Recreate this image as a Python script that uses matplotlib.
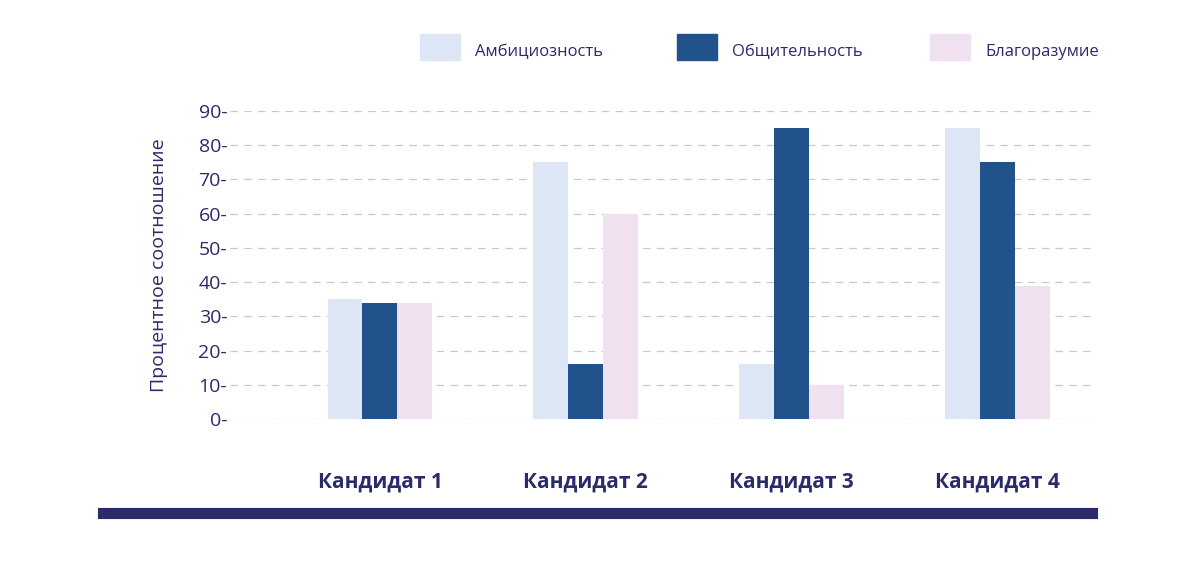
import matplotlib
matplotlib.use("Agg")
import matplotlib.pyplot as plt
from matplotlib.patches import Rectangle
from matplotlib.lines import Line2D
import numpy as np

categories = ["Кандидат 1", "Кандидат 2", "Кандидат 3", "Кандидат 4"]
series_names = ["Амбициозность", "Общительность", "Благоразумие"]
ambition = [35, 75, 16, 85]
sociability = [34, 16, 85, 75]
prudence = [34, 60, 10, 39]
yticks = [0, 10, 20, 30, 40, 50, 60, 70, 80, 90]

colors = ["#dce6f5", "#22528c", "#f0e1f0"]
navy = "#2b2a6b"
plt.rcParams["font.family"] = "Open Sans"

fig = plt.figure(figsize=(12, 5.7), dpi=100)
W, H = 1200, 570
ax = fig.add_axes([230 / W, (H - 419) / H, (1095 - 230) / W, (419 - 111) / H])

x = np.arange(len(categories))
w = 0.17
for k, vals in enumerate([ambition, sociability, prudence]):
    ax.bar(x + (k - 1) * w, vals, w, color=colors[k], zorder=2)

ax.set_xlim(-0.729, 3.476)
ax.set_ylim(0, 90)
ax.set_yticks(yticks)
ax.set_yticklabels([f"{t}-" for t in yticks], fontsize=14, color=navy)
ax.tick_params(axis="y", length=0, pad=2)
ax.set_xticks(x)
ax.set_xticklabels(categories, fontsize=15, fontweight="bold", color=navy)
ax.tick_params(axis="x", length=0, pad=38)
for t in yticks:
    ax.axhline(t, color="#c8c8c8", lw=0.9, ls=(0, (6, 5)), zorder=1)
for s in ax.spines.values():
    s.set_visible(False)
ax.set_ylabel("Процентное соотношение", fontsize=14, color=navy, labelpad=22)

# legend
lx = [420, 677, 930]
for i, name in enumerate(series_names):
    fig.patches.append(Rectangle((lx[i] / W, (H - 60) / H), 40 / W, 26 / H,
                                 transform=fig.transFigure, color=colors[i]))
    fig.text((lx[i] + 55) / W, (H - 52) / H, name, fontsize=12, color=navy, va="center")

fig.add_artist(Line2D([103 / W, 1092 / W], [(H - 513) / H] * 2, color=navy, lw=8,
                      transform=fig.transFigure))

fig.savefig("out.png", dpi=100)
